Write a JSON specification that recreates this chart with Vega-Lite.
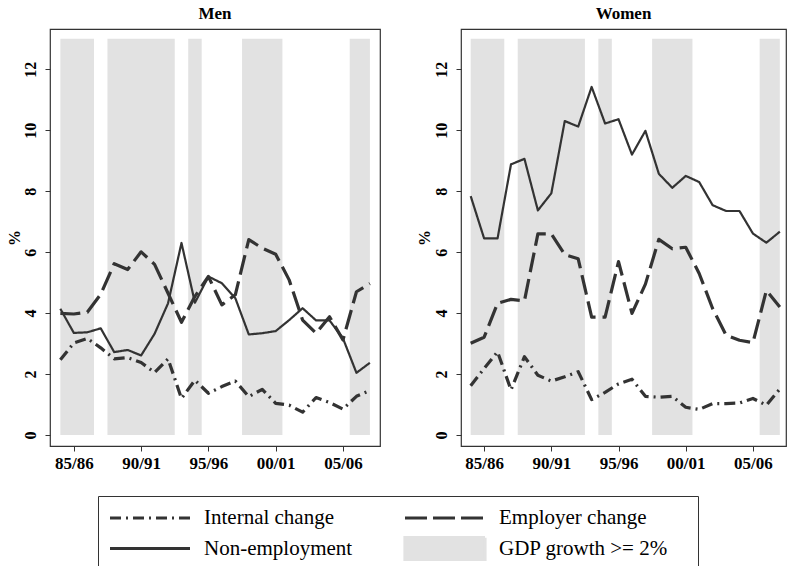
{
  "$schema": "https://vega.github.io/schema/vega-lite/v6.json",
  "padding": {"left": 5, "top": 4, "right": 0, "bottom": 0},
  "background": "white",
  "config": {
    "view": {"stroke": "#333333", "strokeWidth": 1.2},
    "axis": {"grid": false, "domain": false, "tickColor": "#333333", "tickSize": 5, "tickWidth": 1,
      "labelFont": "Liberation Serif", "labelFontSize": 16, "labelFontWeight": "bold", "labelColor": "black",
      "titleFont": "Liberation Serif", "titleFontSize": 16, "titleFontWeight": "bold", "titleColor": "black"},
    "title": {"font": "Liberation Serif", "fontSize": 17, "fontWeight": "bold", "color": "black", "baseline": "alphabetic", "offset": 6}
  },
  "datasets": {
    "gdp": [
      {"start": 1984, "end": 1986.5, "series": "GDP growth >= 2%"},
      {"start": 1987.5, "end": 1992.5, "series": "GDP growth >= 2%"},
      {"start": 1993.5, "end": 1994.5, "series": "GDP growth >= 2%"},
      {"start": 1997.5, "end": 2000.5, "series": "GDP growth >= 2%"},
      {"start": 2005.5, "end": 2007, "series": "GDP growth >= 2%"}
    ],
    "lines": [
      {"panel": "Men", "series": "Non-employment", "year": 1984, "value": 4.14},
      {"panel": "Men", "series": "Non-employment", "year": 1985, "value": 3.35},
      {"panel": "Men", "series": "Non-employment", "year": 1986, "value": 3.37},
      {"panel": "Men", "series": "Non-employment", "year": 1987, "value": 3.5},
      {"panel": "Men", "series": "Non-employment", "year": 1988, "value": 2.72},
      {"panel": "Men", "series": "Non-employment", "year": 1989, "value": 2.79},
      {"panel": "Men", "series": "Non-employment", "year": 1990, "value": 2.61},
      {"panel": "Men", "series": "Non-employment", "year": 1991, "value": 3.32},
      {"panel": "Men", "series": "Non-employment", "year": 1992, "value": 4.32},
      {"panel": "Men", "series": "Non-employment", "year": 1993, "value": 6.3},
      {"panel": "Men", "series": "Non-employment", "year": 1994, "value": 4.34},
      {"panel": "Men", "series": "Non-employment", "year": 1995, "value": 5.2},
      {"panel": "Men", "series": "Non-employment", "year": 1996, "value": 4.98},
      {"panel": "Men", "series": "Non-employment", "year": 1997, "value": 4.49},
      {"panel": "Men", "series": "Non-employment", "year": 1998, "value": 3.3},
      {"panel": "Men", "series": "Non-employment", "year": 1999, "value": 3.34},
      {"panel": "Men", "series": "Non-employment", "year": 2000, "value": 3.41},
      {"panel": "Men", "series": "Non-employment", "year": 2001, "value": 3.77},
      {"panel": "Men", "series": "Non-employment", "year": 2002, "value": 4.16},
      {"panel": "Men", "series": "Non-employment", "year": 2003, "value": 3.76},
      {"panel": "Men", "series": "Non-employment", "year": 2004, "value": 3.76},
      {"panel": "Men", "series": "Non-employment", "year": 2005, "value": 3.17},
      {"panel": "Men", "series": "Non-employment", "year": 2006, "value": 2.04},
      {"panel": "Men", "series": "Non-employment", "year": 2007, "value": 2.37},
      {"panel": "Men", "series": "Employer change", "year": 1984, "value": 3.99},
      {"panel": "Men", "series": "Employer change", "year": 1985, "value": 3.97},
      {"panel": "Men", "series": "Employer change", "year": 1986, "value": 4.03},
      {"panel": "Men", "series": "Employer change", "year": 1987, "value": 4.62},
      {"panel": "Men", "series": "Employer change", "year": 1988, "value": 5.62},
      {"panel": "Men", "series": "Employer change", "year": 1989, "value": 5.43},
      {"panel": "Men", "series": "Employer change", "year": 1990, "value": 6.01},
      {"panel": "Men", "series": "Employer change", "year": 1991, "value": 5.6},
      {"panel": "Men", "series": "Employer change", "year": 1992, "value": 4.65},
      {"panel": "Men", "series": "Employer change", "year": 1993, "value": 3.7},
      {"panel": "Men", "series": "Employer change", "year": 1994, "value": 4.55},
      {"panel": "Men", "series": "Employer change", "year": 1995, "value": 5.2},
      {"panel": "Men", "series": "Employer change", "year": 1996, "value": 4.27},
      {"panel": "Men", "series": "Employer change", "year": 1997, "value": 4.6},
      {"panel": "Men", "series": "Employer change", "year": 1998, "value": 6.41},
      {"panel": "Men", "series": "Employer change", "year": 1999, "value": 6.13},
      {"panel": "Men", "series": "Employer change", "year": 2000, "value": 5.93},
      {"panel": "Men", "series": "Employer change", "year": 2001, "value": 5.09},
      {"panel": "Men", "series": "Employer change", "year": 2002, "value": 3.77},
      {"panel": "Men", "series": "Employer change", "year": 2003, "value": 3.34},
      {"panel": "Men", "series": "Employer change", "year": 2004, "value": 3.88},
      {"panel": "Men", "series": "Employer change", "year": 2005, "value": 3.12},
      {"panel": "Men", "series": "Employer change", "year": 2006, "value": 4.7},
      {"panel": "Men", "series": "Employer change", "year": 2007, "value": 4.97},
      {"panel": "Men", "series": "Internal change", "year": 1984, "value": 2.47},
      {"panel": "Men", "series": "Internal change", "year": 1985, "value": 3.02},
      {"panel": "Men", "series": "Internal change", "year": 1986, "value": 3.17},
      {"panel": "Men", "series": "Internal change", "year": 1987, "value": 2.86},
      {"panel": "Men", "series": "Internal change", "year": 1988, "value": 2.5},
      {"panel": "Men", "series": "Internal change", "year": 1989, "value": 2.54},
      {"panel": "Men", "series": "Internal change", "year": 1990, "value": 2.38},
      {"panel": "Men", "series": "Internal change", "year": 1991, "value": 2.05},
      {"panel": "Men", "series": "Internal change", "year": 1992, "value": 2.5},
      {"panel": "Men", "series": "Internal change", "year": 1993, "value": 1.2},
      {"panel": "Men", "series": "Internal change", "year": 1994, "value": 1.8},
      {"panel": "Men", "series": "Internal change", "year": 1995, "value": 1.37},
      {"panel": "Men", "series": "Internal change", "year": 1996, "value": 1.59},
      {"panel": "Men", "series": "Internal change", "year": 1997, "value": 1.77},
      {"panel": "Men", "series": "Internal change", "year": 1998, "value": 1.26},
      {"panel": "Men", "series": "Internal change", "year": 1999, "value": 1.5},
      {"panel": "Men", "series": "Internal change", "year": 2000, "value": 1.04},
      {"panel": "Men", "series": "Internal change", "year": 2001, "value": 0.98},
      {"panel": "Men", "series": "Internal change", "year": 2002, "value": 0.75},
      {"panel": "Men", "series": "Internal change", "year": 2003, "value": 1.23},
      {"panel": "Men", "series": "Internal change", "year": 2004, "value": 1.07},
      {"panel": "Men", "series": "Internal change", "year": 2005, "value": 0.85},
      {"panel": "Men", "series": "Internal change", "year": 2006, "value": 1.27},
      {"panel": "Men", "series": "Internal change", "year": 2007, "value": 1.46},
      {"panel": "Women", "series": "Non-employment", "year": 1984, "value": 7.84},
      {"panel": "Women", "series": "Non-employment", "year": 1985, "value": 6.45},
      {"panel": "Women", "series": "Non-employment", "year": 1986, "value": 6.45},
      {"panel": "Women", "series": "Non-employment", "year": 1987, "value": 8.88},
      {"panel": "Women", "series": "Non-employment", "year": 1988, "value": 9.06},
      {"panel": "Women", "series": "Non-employment", "year": 1989, "value": 7.37},
      {"panel": "Women", "series": "Non-employment", "year": 1990, "value": 7.93},
      {"panel": "Women", "series": "Non-employment", "year": 1991, "value": 10.3},
      {"panel": "Women", "series": "Non-employment", "year": 1992, "value": 10.12},
      {"panel": "Women", "series": "Non-employment", "year": 1993, "value": 11.42},
      {"panel": "Women", "series": "Non-employment", "year": 1994, "value": 10.22},
      {"panel": "Women", "series": "Non-employment", "year": 1995, "value": 10.36},
      {"panel": "Women", "series": "Non-employment", "year": 1996, "value": 9.2},
      {"panel": "Women", "series": "Non-employment", "year": 1997, "value": 9.98},
      {"panel": "Women", "series": "Non-employment", "year": 1998, "value": 8.57},
      {"panel": "Women", "series": "Non-employment", "year": 1999, "value": 8.11},
      {"panel": "Women", "series": "Non-employment", "year": 2000, "value": 8.5},
      {"panel": "Women", "series": "Non-employment", "year": 2001, "value": 8.3},
      {"panel": "Women", "series": "Non-employment", "year": 2002, "value": 7.54},
      {"panel": "Women", "series": "Non-employment", "year": 2003, "value": 7.35},
      {"panel": "Women", "series": "Non-employment", "year": 2004, "value": 7.35},
      {"panel": "Women", "series": "Non-employment", "year": 2005, "value": 6.61},
      {"panel": "Women", "series": "Non-employment", "year": 2006, "value": 6.31},
      {"panel": "Women", "series": "Non-employment", "year": 2007, "value": 6.67},
      {"panel": "Women", "series": "Employer change", "year": 1984, "value": 3.01},
      {"panel": "Women", "series": "Employer change", "year": 1985, "value": 3.21},
      {"panel": "Women", "series": "Employer change", "year": 1986, "value": 4.32},
      {"panel": "Women", "series": "Employer change", "year": 1987, "value": 4.45},
      {"panel": "Women", "series": "Employer change", "year": 1988, "value": 4.4},
      {"panel": "Women", "series": "Employer change", "year": 1989, "value": 6.6},
      {"panel": "Women", "series": "Employer change", "year": 1990, "value": 6.6},
      {"panel": "Women", "series": "Employer change", "year": 1991, "value": 5.92},
      {"panel": "Women", "series": "Employer change", "year": 1992, "value": 5.78},
      {"panel": "Women", "series": "Employer change", "year": 1993, "value": 3.87},
      {"panel": "Women", "series": "Employer change", "year": 1994, "value": 3.87},
      {"panel": "Women", "series": "Employer change", "year": 1995, "value": 5.69},
      {"panel": "Women", "series": "Employer change", "year": 1996, "value": 3.99},
      {"panel": "Women", "series": "Employer change", "year": 1997, "value": 4.95},
      {"panel": "Women", "series": "Employer change", "year": 1998, "value": 6.42},
      {"panel": "Women", "series": "Employer change", "year": 1999, "value": 6.11},
      {"panel": "Women", "series": "Employer change", "year": 2000, "value": 6.16},
      {"panel": "Women", "series": "Employer change", "year": 2001, "value": 5.3},
      {"panel": "Women", "series": "Employer change", "year": 2002, "value": 4.15},
      {"panel": "Women", "series": "Employer change", "year": 2003, "value": 3.28},
      {"panel": "Women", "series": "Employer change", "year": 2004, "value": 3.11},
      {"panel": "Women", "series": "Employer change", "year": 2005, "value": 3.03},
      {"panel": "Women", "series": "Employer change", "year": 2006, "value": 4.74},
      {"panel": "Women", "series": "Employer change", "year": 2007, "value": 4.2},
      {"panel": "Women", "series": "Internal change", "year": 1984, "value": 1.62},
      {"panel": "Women", "series": "Internal change", "year": 1985, "value": 2.18},
      {"panel": "Women", "series": "Internal change", "year": 1986, "value": 2.73},
      {"panel": "Women", "series": "Internal change", "year": 1987, "value": 1.48},
      {"panel": "Women", "series": "Internal change", "year": 1988, "value": 2.57},
      {"panel": "Women", "series": "Internal change", "year": 1989, "value": 1.96},
      {"panel": "Women", "series": "Internal change", "year": 1990, "value": 1.77},
      {"panel": "Women", "series": "Internal change", "year": 1991, "value": 1.91},
      {"panel": "Women", "series": "Internal change", "year": 1992, "value": 2.08},
      {"panel": "Women", "series": "Internal change", "year": 1993, "value": 1.16},
      {"panel": "Women", "series": "Internal change", "year": 1994, "value": 1.4},
      {"panel": "Women", "series": "Internal change", "year": 1995, "value": 1.68},
      {"panel": "Women", "series": "Internal change", "year": 1996, "value": 1.83},
      {"panel": "Women", "series": "Internal change", "year": 1997, "value": 1.27},
      {"panel": "Women", "series": "Internal change", "year": 1998, "value": 1.24},
      {"panel": "Women", "series": "Internal change", "year": 1999, "value": 1.27},
      {"panel": "Women", "series": "Internal change", "year": 2000, "value": 0.91},
      {"panel": "Women", "series": "Internal change", "year": 2001, "value": 0.84},
      {"panel": "Women", "series": "Internal change", "year": 2002, "value": 1.03},
      {"panel": "Women", "series": "Internal change", "year": 2003, "value": 1.03},
      {"panel": "Women", "series": "Internal change", "year": 2004, "value": 1.05},
      {"panel": "Women", "series": "Internal change", "year": 2005, "value": 1.2},
      {"panel": "Women", "series": "Internal change", "year": 2006, "value": 0.98},
      {"panel": "Women", "series": "Internal change", "year": 2007, "value": 1.51}
    ]
  },
  "spacing": 34,
  "resolve": {"scale": {"color": "shared", "strokeDash": "shared"}, "legend": {"color": "shared"}},
  "hconcat": [
    {
      "title": "Men",
      "width": 330,
      "height": 417,
      "layer": [
        {
          "data": {"name": "gdp"},
          "mark": {"type": "rect"},
          "encoding": {
            "x": {"field": "start", "type": "quantitative", "title": null,
              "scale": {"domain": [1983.23, 2007.75], "nice": false, "zero": false},
              "axis": {"values": [1985, 1990, 1995, 2000, 2005], "labelPadding": 4, "labelFontSize": 17,
                "labelExpr": "substring(toString(datum.value), 2) + '/' + substring(toString(datum.value + 1), 2)"}},
            "x2": {"field": "end"},
            "y": {"datum": 0, "type": "quantitative", "title": "%",
              "scale": {"domain": [-0.36, 13.32], "nice": false, "zero": false},
              "axis": {"values": [0, 2, 4, 6, 8, 10, 12], "labelAngle": -90, "labelAlign": "center", "labelBaseline": "alphabetic", "labelPadding": 10,
                "titleAngle": -90, "titleBaseline": "alphabetic", "titleX": -31}},
            "y2": {"datum": 13},
            "color": {"field": "series", "type": "nominal",
              "scale": {"domain": ["Internal change", "Non-employment", "Employer change", "GDP growth >= 2%"], "range": ["#333333", "#333333", "#333333", "#e2e2e2"]},
              "legend": {"orient": "none", "legendX": 48, "legendY": 467, "columns": 2, "title": " ", "titleOrient": "right", "titlePadding": 20, "titleFontSize": 21, "titleFont": "Liberation Serif",
                "symbolType": "M-1,0H7", "symbolSize": 400, "symbolStrokeWidth": 3,
                "labelFont": "Liberation Serif", "labelFontSize": 21, "labelColor": "black", "labelOffset": 72, "labelLimit": 400,
                "columnPadding": 45, "rowPadding": 2.5, "padding": 10, "strokeColor": "#333333",
                "encode": {"symbols": {"update": {
                  "shape": {"signal": "datum.value === 'GDP growth >= 2%' ? 'M-1,-1.08H7V1.08H-1Z' : 'M-1,0H7'"},
                  "fill": {"signal": "datum.value === 'GDP growth >= 2%' ? '#e2e2e2' : 'transparent'"},
                  "stroke": {"signal": "datum.value === 'GDP growth >= 2%' ? 'transparent' : '#333333'"},
                  "strokeDash": {"signal": "datum.value === 'Internal change' ? [11, 5, 2, 5] : datum.value === 'Employer change' ? [22, 6] : [1, 0]"},
                  "strokeWidth": {"value": 3.2},
                  "opacity": {"value": 1}
                }}}}}
          }
        },
        {
          "data": {"name": "lines"},
          "transform": [{"filter": "datum.panel === 'Men'"}],
          "mark": {"type": "line", "strokeCap": "butt", "strokeJoin": "round"},
          "encoding": {
            "x": {"field": "year", "type": "quantitative", "title": null},
            "y": {"field": "value", "type": "quantitative", "title": "%"},
            "color": {"field": "series", "type": "nominal"},
            "strokeDash": {"field": "series", "type": "nominal", "legend": null,
              "scale": {"domain": ["Internal change", "Employer change", "Non-employment", "GDP growth >= 2%"], "range": [[11, 5, 2, 5], [20, 7], [1, 0], [1, 0]]}},
            "strokeWidth": {"condition": {"test": "datum.series === 'Non-employment'", "value": 2.2}, "value": 3.2}
          }
        }
      ]
    },
    {
      "title": "Women",
      "width": 325,
      "height": 417,
      "layer": [
        {
          "data": {"name": "gdp"},
          "mark": {"type": "rect"},
          "encoding": {
            "x": {"field": "start", "type": "quantitative", "title": null,
              "scale": {"domain": [1983.28, 2007.46], "nice": false, "zero": false},
              "axis": {"values": [1985, 1990, 1995, 2000, 2005], "labelPadding": 4, "labelFontSize": 17,
                "labelExpr": "substring(toString(datum.value), 2) + '/' + substring(toString(datum.value + 1), 2)"}},
            "x2": {"field": "end"},
            "y": {"datum": 0, "type": "quantitative", "title": "%",
              "scale": {"domain": [-0.36, 13.32], "nice": false, "zero": false},
              "axis": {"values": [0, 2, 4, 6, 8, 10, 12], "labelAngle": -90, "labelAlign": "center", "labelBaseline": "alphabetic", "labelPadding": 10,
                "titleAngle": -90, "titleBaseline": "alphabetic", "titleX": -32}},
            "y2": {"datum": 13},
            "color": {"field": "series", "type": "nominal"}
          }
        },
        {
          "data": {"name": "lines"},
          "transform": [{"filter": "datum.panel === 'Women'"}],
          "mark": {"type": "line", "strokeCap": "butt", "strokeJoin": "round"},
          "encoding": {
            "x": {"field": "year", "type": "quantitative", "title": null},
            "y": {"field": "value", "type": "quantitative", "title": "%"},
            "color": {"field": "series", "type": "nominal"},
            "strokeDash": {"field": "series", "type": "nominal", "legend": null},
            "strokeWidth": {"condition": {"test": "datum.series === 'Non-employment'", "value": 2.2}, "value": 3.2}
          }
        }
      ]
    }
  ]
}
